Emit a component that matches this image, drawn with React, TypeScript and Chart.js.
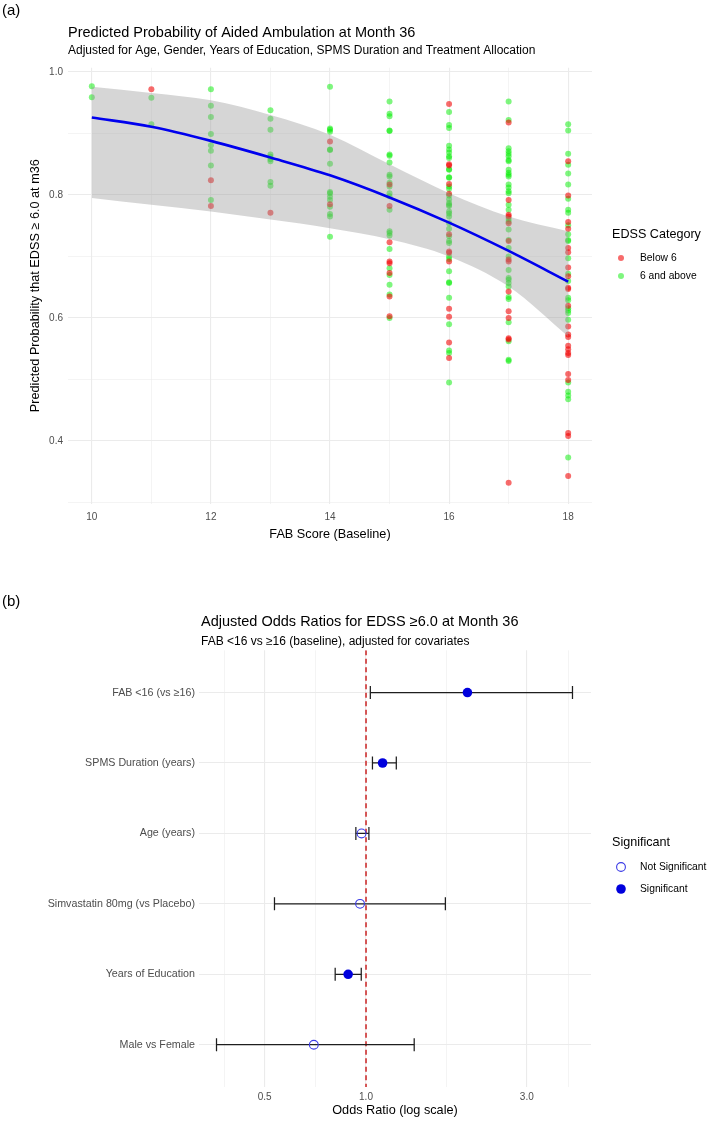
import React, { useEffect, useRef } from "react";
import { Chart, registerables } from "chart.js";

Chart.register(...registerables);

const FONT = '"Liberation Sans", Arial, Helvetica, sans-serif';

// ---------- Panel (a): predicted probability by FAB score ----------
const fabScores = [10, 11, 12, 13, 14, 15, 16, 17, 18];

const below10: number[] = [];
const above10 = [0.977, 0.959];
const below11 = [0.972];
const above11 = [0.958, 0.915];
const below12 = [0.824, 0.782];
const above12 = [0.972, 0.945, 0.927, 0.899, 0.881, 0.872, 0.848, 0.792];
const below13 = [0.771];
const above13 = [0.938, 0.924, 0.906, 0.866, 0.862, 0.858, 0.855, 0.821, 0.815];
const below14 = [0.887, 0.785];
const above14 = [0.976, 0.908, 0.906, 0.903, 0.874, 0.873, 0.851, 0.805, 0.803, 0.797, 0.792, 0.781, 0.769, 0.765, 0.732];
const below15 = [0.817, 0.782, 0.723, 0.692, 0.689, 0.673, 0.635, 0.603];
const above15 = [0.952, 0.932, 0.928, 0.905, 0.904, 0.866, 0.864, 0.853, 0.833, 0.83, 0.82, 0.814, 0.803, 0.798, 0.776, 0.741, 0.738, 0.734, 0.712, 0.681, 0.67, 0.654, 0.638, 0.6];
const below16 = [0.948, 0.85, 0.848, 0.818, 0.802, 0.736, 0.708, 0.706, 0.692, 0.615, 0.602, 0.56, 0.535];
const above16 = [0.935, 0.914, 0.909, 0.88, 0.874, 0.869, 0.863, 0.86, 0.842, 0.841, 0.829, 0.828, 0.814, 0.81, 0.799, 0.793, 0.787, 0.784, 0.782, 0.773, 0.77, 0.765, 0.754, 0.745, 0.733, 0.725, 0.722, 0.7, 0.696, 0.676, 0.658, 0.657, 0.633, 0.59, 0.547, 0.543, 0.495];
const below17 = [0.918, 0.792, 0.768, 0.765, 0.754, 0.725, 0.695, 0.692, 0.643, 0.611, 0.6, 0.567, 0.565, 0.332];
const above17 = [0.952, 0.922, 0.876, 0.871, 0.867, 0.863, 0.857, 0.855, 0.841, 0.836, 0.833, 0.83, 0.817, 0.812, 0.806, 0.803, 0.784, 0.776, 0.761, 0.757, 0.744, 0.727, 0.714, 0.7, 0.678, 0.665, 0.662, 0.657, 0.651, 0.634, 0.631, 0.593, 0.562, 0.532, 0.53];
const below18 = [0.855, 0.799, 0.756, 0.745, 0.714, 0.707, 0.682, 0.668, 0.649, 0.647, 0.62, 0.586, 0.573, 0.569, 0.555, 0.549, 0.543, 0.54, 0.509, 0.499, 0.413, 0.408, 0.343];
const above18 = [0.915, 0.905, 0.867, 0.849, 0.835, 0.817, 0.794, 0.776, 0.771, 0.751, 0.736, 0.727, 0.725, 0.697, 0.672, 0.66, 0.633, 0.629, 0.616, 0.612, 0.608, 0.597, 0.495, 0.48, 0.474, 0.468, 0.373];

const belowByScore = [below10, below11, below12, below13, below14, below15, below16, below17, below18];
const aboveByScore = [above10, above11, above12, above13, above14, above15, above16, above17, above18];

const fitProb = [0.926, 0.911, 0.888, 0.861, 0.832, 0.796, 0.755, 0.709, 0.659];
const fitUpper = [0.976, 0.966, 0.954, 0.93, 0.898, 0.85, 0.803, 0.765, 0.741];
const fitLower = [0.795, 0.784, 0.773, 0.76, 0.746, 0.728, 0.7, 0.651, 0.57];

const majorXA = [10, 12, 14, 16, 18];
const minorXA = [11, 13, 15, 17];
const majorYA = [0.4, 0.6, 0.8, 1.0];
const minorYA = [0.3, 0.5, 0.7, 0.9];

const categoryLabels = ["Below 6", "6 and above"];

// ---------- Panel (b): adjusted odds ratios ----------
const terms = [
  "FAB <16 (vs ≥16)",
  "SPMS Duration (years)",
  "Age (years)",
  "Simvastatin 80mg (vs Placebo)",
  "Years of Education",
  "Male vs Female",
];
const oddsRatio = [2.0, 1.12, 0.97, 0.96, 0.885, 0.7];
const ciLower = [1.03, 1.045, 0.933, 0.535, 0.81, 0.36];
const ciUpper = [4.1, 1.23, 1.02, 1.72, 0.968, 1.39];
const significant = [true, true, false, false, true, false];

const majorXB = [0.5, 1, 3];
const minorXB = [0.38, 0.707, 1.732, 3.98];
const sigLabels = ["Not Significant", "Significant"];

const OR_MIN = 0.3194;
const OR_MAX = 4.653;

const RED = "rgba(242,0,0,0.58)";
const GREEN = "rgba(0,238,0,0.5)";
const BLUE = "#0000dd";
const GRID = "#ebebeb";
const TICK = "#4d4d4d";

const isIn = (list: number[], v: number) => list.some((u) => Math.abs(u - v) < 1e-9);

type TextItem = { text: string; x: number; y: number; size: number; color?: string };
type Marker = { x: number; y: number; r: number; fill?: string; stroke?: string; lw?: number };

function overlayPlugin(id: string, texts: TextItem[], markers: Marker[]) {
  return {
    id,
    afterDraw(chart: any) {
      const ctx = chart.ctx as CanvasRenderingContext2D;
      ctx.save();
      ctx.textAlign = "left";
      ctx.textBaseline = "middle";
      for (const t of texts) {
        ctx.font = `${t.size}px ${FONT}`;
        ctx.fillStyle = t.color || "#000";
        ctx.fillText(t.text, t.x, t.y);
      }
      for (const m of markers) {
        ctx.beginPath();
        ctx.arc(m.x, m.y, m.r, 0, Math.PI * 2);
        if (m.fill) {
          ctx.fillStyle = m.fill;
          ctx.fill();
        }
        if (m.stroke) {
          ctx.strokeStyle = m.stroke;
          ctx.lineWidth = m.lw || 1;
          ctx.stroke();
        }
      }
      ctx.restore();
    },
  };
}

export default function App() {
  const refA = useRef<HTMLCanvasElement>(null);
  const refB = useRef<HTMLCanvasElement>(null);

  useEffect(() => {
    document.body.style.margin = "0";

    // ----- chart (a) -----
    const belowPts: { x: number; y: number }[] = [];
    const abovePts: { x: number; y: number }[] = [];
    fabScores.forEach((s, i) => {
      belowByScore[i].forEach((v) => belowPts.push({ x: s, y: v }));
      aboveByScore[i].forEach((v) => abovePts.push({ x: s, y: v }));
    });

    const chartA = new Chart(refA.current as HTMLCanvasElement, {
      type: "scatter",
      data: {
        datasets: [
          {
            label: "fit",
            data: fabScores.map((x, i) => ({ x, y: fitProb[i] })),
            showLine: true,
            borderColor: "#0000ee",
            borderWidth: 2.6,
            pointRadius: 0,
            cubicInterpolationMode: "monotone",
            order: 0,
          } as any,
          {
            label: "upper",
            data: fabScores.map((x, i) => ({ x, y: fitUpper[i] })),
            showLine: true,
            borderWidth: 0,
            borderColor: "rgba(0,0,0,0)",
            pointRadius: 0,
            fill: "+1",
            backgroundColor: "rgba(153,153,153,0.4)",
            cubicInterpolationMode: "monotone",
            order: 1,
          } as any,
          {
            label: "lower",
            data: fabScores.map((x, i) => ({ x, y: fitLower[i] })),
            showLine: true,
            borderWidth: 0,
            borderColor: "rgba(0,0,0,0)",
            pointRadius: 0,
            fill: false,
            cubicInterpolationMode: "monotone",
            order: 2,
          } as any,
          {
            label: categoryLabels[0],
            data: belowPts,
            backgroundColor: RED,
            borderWidth: 0,
            pointRadius: 3,
            order: 3,
          },
          {
            label: categoryLabels[1],
            data: abovePts,
            backgroundColor: GREEN,
            borderWidth: 0,
            pointRadius: 3,
            order: 4,
          },
        ],
      },
      options: {
        animation: false,
        responsive: false,
        devicePixelRatio: 1,
        events: [],
        layout: { padding: { left: 27.4, right: 117, top: 67.7, bottom: 17.4 } },
        plugins: { legend: { display: false }, tooltip: { enabled: false } },
        scales: {
          x: {
            type: "linear",
            min: 9.6,
            max: 18.4,
            bounds: "data",
            afterBuildTicks: (s: any) => {
              s.ticks = [...majorXA, ...minorXA].sort((a, b) => a - b).map((v) => ({ value: v }));
              s.min = 9.6;
              s.max = 18.4;
            },
            afterFit: (s: any) => {
              s.height = 38.9;
            },
            border: { display: false },
            grid: {
              color: GRID,
              lineWidth: (c: any) => (isIn(majorXA, c.tick?.value) ? 1.1 : 0.55),
              drawTicks: false,
            },
            ticks: {
              autoSkip: false,
              maxRotation: 0,
              padding: 7.3,
              color: TICK,
              font: { family: FONT, size: 10 },
              callback: (v: any) => (isIn(majorXA, Number(v)) ? String(v) : ""),
            },
            title: {
              display: true,
              text: "FAB Score (Baseline)",
              color: "#000",
              padding: 0,
              font: { family: FONT, size: 12.7 },
            },
          },
          y: {
            type: "linear",
            min: 0.298,
            max: 1.007,
            bounds: "data",
            afterBuildTicks: (s: any) => {
              s.ticks = [...majorYA, ...minorYA].sort((a, b) => a - b).map((v) => ({ value: v }));
              s.min = 0.298;
              s.max = 1.007;
            },
            afterFit: (s: any) => {
              s.width = 40.6;
            },
            border: { display: false },
            grid: {
              color: GRID,
              lineWidth: (c: any) => (isIn(majorYA, c.tick?.value) ? 1.1 : 0.55),
              drawTicks: false,
            },
            ticks: {
              autoSkip: false,
              padding: 5,
              color: TICK,
              font: { family: FONT, size: 10 },
              callback: (v: any) => (isIn(majorYA, Number(v)) ? Number(v).toFixed(1) : ""),
            },
            title: {
              display: true,
              text: "Predicted Probability that EDSS ≥ 6.0 at m36",
              color: "#000",
              padding: 0,
              font: { family: FONT, size: 12.7 },
            },
          },
        },
      } as any,
      plugins: [
        overlayPlugin(
          "overlayA",
          [
            { text: "(a)", x: 2, y: 11, size: 15 },
            { text: "Predicted Probability of Aided Ambulation at Month 36", x: 68, y: 33, size: 14.5 },
            { text: "Adjusted for Age, Gender, Years of Education, SPMS Duration and Treatment Allocation", x: 68, y: 51, size: 12 },
            { text: "EDSS Category", x: 612, y: 235, size: 12.6 },
            { text: categoryLabels[0], x: 640, y: 258, size: 10.3 },
            { text: categoryLabels[1], x: 640, y: 276, size: 10.3 },
          ],
          [
            { x: 621, y: 258, r: 3, fill: RED },
            { x: 621, y: 276, r: 3, fill: GREEN },
          ]
        ),
      ],
    });

    // ----- chart (b) -----
    const rows = terms.map((_, i) => i);
    const sigPts = rows.filter((i) => significant[i]).map((i) => ({ x: oddsRatio[i], y: i }));
    const nonSigPts = rows.filter((i) => !significant[i]).map((i) => ({ x: oddsRatio[i], y: i }));
    const errorSets = rows.map((i) => ({
      label: "ci" + i,
      data: [
        { x: ciLower[i], y: i },
        { x: ciUpper[i], y: i },
      ],
      showLine: true,
      borderColor: "#1e1e1e",
      borderWidth: 1.25,
      pointStyle: "line",
      pointRotation: 90,
      pointRadius: 6.5,
      pointBorderColor: "#1e1e1e",
      pointBorderWidth: 1.25,
      order: 2,
    }));

    const chartB = new Chart(refB.current as HTMLCanvasElement, {
      type: "scatter",
      data: {
        datasets: [
          {
            label: sigLabels[1],
            data: sigPts,
            backgroundColor: BLUE,
            borderWidth: 0,
            pointRadius: 4.8,
            order: 0,
          },
          {
            label: sigLabels[0],
            data: nonSigPts,
            backgroundColor: "rgba(0,0,0,0)",
            borderColor: "#3b3be6",
            borderWidth: 1.1,
            pointRadius: 4.4,
            order: 1,
          },
          ...(errorSets as any[]),
          {
            label: "ref",
            data: [
              { x: 1, y: -0.6 },
              { x: 1, y: terms.length - 0.4 },
            ],
            showLine: true,
            borderColor: "#d44f4f",
            borderWidth: 1.9,
            borderDash: [5, 3.5],
            pointRadius: 0,
            order: 3,
          },
        ],
      },
      options: {
        animation: false,
        responsive: false,
        devicePixelRatio: 1,
        events: [],
        layout: { padding: { left: 0, right: 118, top: 90.3, bottom: 2.6 } },
        plugins: { legend: { display: false }, tooltip: { enabled: false } },
        scales: {
          x: {
            type: "logarithmic",
            min: OR_MIN,
            max: OR_MAX,
            bounds: "data",
            afterBuildTicks: (s: any) => {
              s.ticks = [...majorXB, ...minorXB].sort((a, b) => a - b).map((v) => ({ value: v }));
              s.min = OR_MIN;
              s.max = OR_MAX;
            },
            afterFit: (s: any) => {
              s.height = 31.4;
            },
            border: { display: false },
            grid: {
              color: GRID,
              lineWidth: (c: any) => (isIn(majorXB, c.tick?.value) ? 1.1 : 0.55),
              drawTicks: false,
            },
            ticks: {
              autoSkip: false,
              maxRotation: 0,
              padding: 4,
              color: TICK,
              font: { family: FONT, size: 10 },
              callback: (v: any) => (isIn(majorXB, Number(v)) ? Number(v).toFixed(1) : ""),
            },
            title: {
              display: true,
              text: "Odds Ratio (log scale)",
              color: "#000",
              padding: 0,
              font: { family: FONT, size: 12.7 },
            },
          },
          y: {
            type: "linear",
            min: -0.6,
            max: terms.length - 0.4,
            bounds: "data",
            reverse: true,
            afterBuildTicks: (s: any) => {
              s.ticks = rows.map((v) => ({ value: v }));
              s.min = -0.6;
              s.max = terms.length - 0.4;
            },
            afterFit: (s: any) => {
              s.width = 199;
            },
            border: { display: false },
            grid: { color: GRID, lineWidth: 1.1, drawTicks: false },
            ticks: {
              autoSkip: false,
              padding: 4,
              color: TICK,
              font: { family: FONT, size: 10.7 },
              callback: (v: any) => terms[Math.round(Number(v))] ?? "",
            },
          },
        },
      } as any,
      plugins: [
        overlayPlugin(
          "overlayB",
          [
            { text: "(b)", x: 2, y: 42, size: 15 },
            { text: "Adjusted Odds Ratios for EDSS ≥6.0 at Month 36", x: 201, y: 62, size: 14.5 },
            { text: "FAB <16 vs ≥16 (baseline), adjusted for covariates", x: 201, y: 82, size: 12 },
            { text: "Significant", x: 612, y: 283, size: 12.6 },
            { text: sigLabels[0], x: 640, y: 307, size: 10.3 },
            { text: sigLabels[1], x: 640, y: 329, size: 10.3 },
          ],
          [
            { x: 621, y: 307, r: 4.4, stroke: "#3b3be6", lw: 1.1 },
            { x: 621, y: 329, r: 4.8, fill: BLUE },
          ]
        ),
      ],
    });

    return () => {
      chartA.destroy();
      chartB.destroy();
    };
  }, []);

  return (
    <div
      style={{
        position: "absolute",
        left: 0,
        top: 0,
        width: 709,
        height: 1121,
        background: "#fff",
        overflow: "hidden",
      }}
    >
      <canvas
        ref={refA}
        width={709}
        height={560}
        style={{ position: "absolute", left: 0, top: 0, width: 709, height: 560 }}
      />
      <canvas
        ref={refB}
        width={709}
        height={561}
        style={{ position: "absolute", left: 0, top: 560, width: 709, height: 561 }}
      />
    </div>
  );
}
